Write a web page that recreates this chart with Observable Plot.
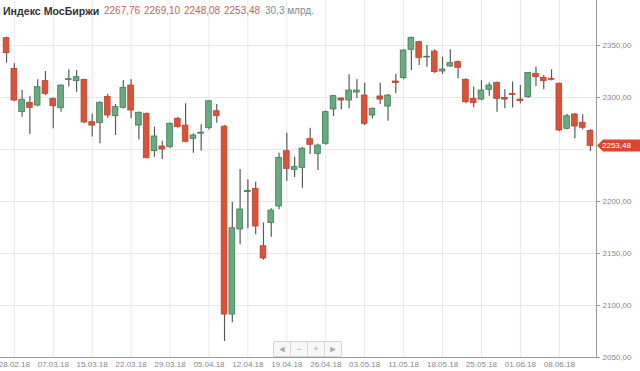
<!DOCTYPE html>
<html>
<head>
<meta charset="utf-8">
<script src="https://cdn.jsdelivr.net/npm/d3@7"></script>
<script src="https://cdn.jsdelivr.net/npm/@observablehq/plot@0.6"></script>
<style>
  html, body { margin: 0; padding: 0; background: #fff; }
  #wrap { position: relative; width: 640px; height: 371px; overflow: hidden; font-family: Arial, "Liberation Sans", sans-serif; }
  #head { position: absolute; left: 0; top: 0; height: 20px; width: 600px; }
  #head span { position: absolute; top: 4px; white-space: nowrap; }
  .ttl { font-weight: bold; font-size: 10.6px; color: #333; left: 3px; top: 5px !important; }
  .num { font-size: 10px; color: #c0665d; top: 5px !important; }
  .vol { font-size: 10px; color: #7e8c99; top: 5px !important; }
  #nav { position: absolute; left: 273px; top: 341px; height: 14px; display: flex; border: 1px solid #d4d4d4; border-radius: 2px; background: #f7f7f7; }
  #nav div { width: 16px; height: 14px; line-height: 14px; text-align: center; font-size: 9px; color: #aaa; border-right: 1px solid #d9d9d9; }
  #nav div:last-child { border-right: none; }
</style>
</head>
<body>
<div id="wrap">
  <div id="chart"></div>
  <div id="head"></div>
  <div id="nav"><div>◄</div><div>−</div><div>+</div><div>►</div></div>
</div>
<script>
const dates = ["27.02.18","28.02.18","01.03.18","02.03.18","05.03.18","06.03.18","07.03.18","09.03.18","12.03.18","13.03.18",
"14.03.18","15.03.18","16.03.18","19.03.18","20.03.18","21.03.18","22.03.18","23.03.18","26.03.18","27.03.18",
"28.03.18","29.03.18","30.03.18","02.04.18","03.04.18","04.04.18","05.04.18","06.04.18","09.04.18","10.04.18",
"11.04.18","12.04.18","13.04.18","16.04.18","17.04.18","18.04.18","19.04.18","20.04.18","23.04.18","24.04.18",
"25.04.18","26.04.18","27.04.18","28.04.18","30.04.18","02.05.18","03.05.18","04.05.18","07.05.18","08.05.18",
"10.05.18","11.05.18","14.05.18","15.05.18","16.05.18","17.05.18","18.05.18","21.05.18","22.05.18","23.05.18",
"24.05.18","25.05.18","28.05.18","29.05.18","30.05.18","31.05.18","01.06.18","04.06.18","05.06.18","06.06.18",
"07.06.18","08.06.18","09.06.18","11.06.18","13.06.18","14.06.18"];
const openV = [2357,2327.6,2285.9,2294.9,2292.3,2315.7,2298.7,2289.7,2316.8,2315.7,
2317,2276.3,2275.3,2300.6,2282,2290.1,2311.5,2273,2284.3,2248.4,
2252.9,2252.2,2279.5,2273,2260.3,2265.2,2270.5,2286.8,2272,2091.3,
2173.1,2209.2,2212.2,2157,2179.2,2195.2,2248.4,2230.5,2232.4,2259.9,
2245.8,2255.5,2288.5,2299,2297.1,2304.8,2301.9,2282.7,2301,2291.3,
2315.4,2318.6,2345.9,2353.2,2338.5,2344.2,2325,2329.8,2334,2317,
2298.7,2298,2307.4,2314,2299.5,2303.5,2298,2300.3,2322.8,2318.9,
2318,2313.2,2269.9,2283.7,2275.7,2267.76];
const highV = [2358,2332.4,2306.7,2301.3,2317,2325,2299.5,2312,2326.6,2326,
2317.5,2284,2296,2303,2293.3,2316.3,2317.3,2286,2285,2271.5,
2258,2275.5,2281,2293.9,2265,2273.8,2297,2293.3,2273,2199.3,
2230.8,2221,2218.6,2179.4,2193,2246.4,2265.7,2242.6,2252,2270.5,
2255,2287,2302,2299.5,2321.8,2317.3,2313.8,2290,2313.8,2303,
2322,2346,2358,2354,2350,2345.9,2338.8,2346,2335,2318,
2310,2316.3,2314,2315,2307.4,2314.8,2311.5,2324,2329.2,2321.2,
2326.6,2314,2283.7,2284.5,2283.4,2269.10];
const lowV = [2333,2296,2281,2264.4,2291,2302,2270,2285.9,2310,2305,
2274.7,2262,2255.5,2280,2263.5,2289,2279.5,2259.3,2241,2242.6,
2240.4,2251,2270.5,2256.7,2246.5,2248.4,2269,2275.3,2065.4,2083.3,
2158.4,2173.8,2168,2143.6,2165.7,2192,2219.5,2223,2212.8,2245.2,
2229.8,2254,2281.7,2288.2,2289.1,2298.8,2273,2279.5,2293.3,2277.2,
2303.6,2317,2326,2330.8,2329.2,2323,2322,2329,2318,2294,
2290.1,2297,2301.3,2285.9,2289.1,2290,2294,2299,2310.6,2307.4,
2316,2267,2269,2260.3,2269,2248.08];
const closeV = [2342.6,2297.1,2297.8,2290.1,2309.9,2303.5,2291.6,2311.5,2317.6,2319.5,
2276,2273,2294.9,2282.7,2290.7,2309.3,2287.5,2285.3,2241.6,2262.5,
2250,2274.7,2271.5,2257.4,2263.5,2266.2,2296.4,2282,2091.3,2174.3,
2192.3,2210.2,2176,2145.2,2191.3,2242,2231.4,2233,2250.7,2254.5,
2253.8,2285.9,2301.3,2297.1,2306.7,2306.7,2274.7,2289.1,2298,2301.9,
2313.8,2345.2,2357.4,2337.8,2339.2,2324.4,2326.9,2333,2328.6,2295.5,
2294.5,2306.7,2311.5,2298.7,2298,2302.5,2296.5,2323.7,2319.5,2315.7,
2317,2268.3,2282,2272.1,2270.9,2253.48];
const tickDates = ["28.02.18","07.03.18","15.03.18","22.03.18","29.03.18","05.04.18","12.04.18","19.04.18","26.04.18","03.05.18","11.05.18","18.05.18","25.05.18","01.06.18","08.06.18"];
const yTicks = [2050,2100,2150,2200,2250,2300,2350];
const headerTitle = "Индекс МосБиржи";
const headerValues = ["2267,76","2269,10","2248,08","2253,48"];
const headerVolume = "30,3 млрд.";
const lastClose = 2253.48;

const candles = dates.map((d, i) => ({date: d, open: openV[i], high: highV[i], low: lowV[i], close: closeV[i]}));
const up = d => d.close >= d.open;
const fmt = v => v.toFixed(2).replace(".", ",");
// the 2250 label is hidden under the last-price marker in the original
const yLabelTicks = yTicks.filter(v => Math.abs(v - lastClose) > 10);

const chart = Plot.plot({
  width: 640, height: 371,
  marginLeft: 0, marginRight: 44, marginTop: 0, marginBottom: 14,
  style: {fontFamily: "Arial, 'Liberation Sans', sans-serif", fontSize: "8px", color: "#888", background: "transparent", overflow: "visible"},
  x: {type: "band", domain: dates, paddingInner: 0.27, paddingOuter: 0.41, align: 0.5, axis: null, label: null},
  y: {domain: [2050, 2393.27], axis: null, label: null},
  marks: [
    Plot.gridX(tickDates, {stroke: "#e8e8e8", strokeOpacity: 1}),
    Plot.gridY(yTicks.slice(1), {stroke: "#e8e8e8", strokeOpacity: 1}),
    Plot.ruleY([2050], {stroke: "#9a9a9a"}),
    Plot.frame({anchor: "right", stroke: "#9a9a9a"}),
    Plot.ruleX(candles, {x: "date", y1: "low", y2: "high", stroke: "#5a5a5a", strokeWidth: 1.2}),
    Plot.barY(candles, {x: "date", y1: "open", y2: "close",
      fill: d => up(d) ? "#6aaa80" : "#dc5238",
      stroke: d => up(d) ? "#3f7d55" : "#b8432e", strokeWidth: 0.8}),
    Plot.axisY(yLabelTicks, {anchor: "right", tickSize: 3, tickPadding: 3, tickFormat: fmt, fill: "#888", stroke: "#9a9a9a", label: null}),
    Plot.axisX(tickDates, {anchor: "bottom", tickSize: 0, tickPadding: 4, fill: "#888", label: null})
  ]
});
document.getElementById("chart").appendChild(chart);

// last price label on the right axis
const yS = chart.scale("y");
const py = yS.apply(lastClose);
const svg = d3.select(chart);
svg.append("path")
  .attr("d", `M597,${py} L603,${py - 6} L640,${py - 6} L640,${py + 6} L603,${py + 6} Z`)
  .attr("fill", "#d9472f");
svg.append("text")
  .attr("x", 602).attr("y", py).attr("dy", "0.35em")
  .attr("text-anchor", "start")
  .attr("fill", "#fff").attr("font-size", "8px")
  .text(fmt(lastClose));

// header
const head = document.getElementById("head");
const addSpan = (cls, txt, x) => {
  const s = document.createElement("span");
  s.className = cls; s.textContent = txt;
  if (x != null) s.style.left = x + "px";
  head.appendChild(s);
};
addSpan("ttl", headerTitle, 3);
const xs = [104, 144, 184, 224];
headerValues.forEach((v, i) => addSpan("num", v, xs[i]));
addSpan("vol", headerVolume, 265);
</script>
</body>
</html>
